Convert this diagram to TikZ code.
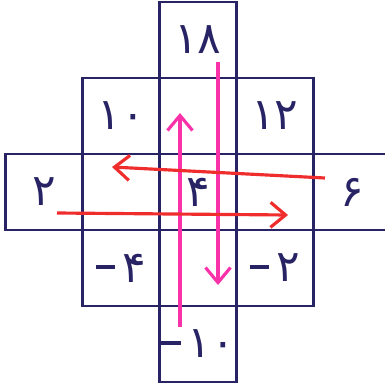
\documentclass[tikz,border=0pt]{standalone}
\usepackage{fontspec}
\usetikzlibrary{arrows.meta, positioning}
\newfontfamily\persianfont[Script=Arabic]{DejaVu Sans}
\newcommand{\fanum}[1]{{\persianfont #1}}
\newcommand{\faneg}[1]{\rule[0.3em]{0.45em}{0.08em}\,{\persianfont #1}}
\definecolor{ink}{RGB}{40,35,100}
\definecolor{penred}{RGB}{240,45,45}
\definecolor{penpink}{RGB}{250,50,170}

\begin{document}
\begin{tikzpicture}[
    x=0.02cm, y=-0.02cm,
    node distance=0pt,
    cell/.style={draw=ink, line width=1.4pt, outer sep=0pt, inner sep=0pt, minimum width=1.54cm, minimum height=1.52cm, text=ink, font=\fontsize{25}{25}\selectfont},
    redarrow/.style={-{Straight Barb[length=3mm, width=5mm]}, penred, line width=1.8pt},
    pinkarrow/.style={-{Straight Barb[length=3mm, width=5mm]}, penpink, line width=1.8pt}
]
\clip (0,0) rectangle (385,389);
\fill[white] (0,0) rectangle (385,389);

% --- middle column ---
\node[cell] (n4) at (198,192) {\fanum{۴}};
\node[cell, above=of n4] (n18a) {};
\node[cell, above=of n18a] (n18) {\fanum{۱۸}};
\node[cell, below=of n4] (nm10a) {};
\node[cell, below=of nm10a] (nm10) {\faneg{۱۰}};

% --- left and right columns ---
\node[cell, left=of n18a] (n10) {\fanum{۱۰}};
\node[cell, right=of n18a] (n12) {\fanum{۱۲}};
\node[cell, left=of n4] (n2a) {};
\node[cell, left=of n2a] (n2) {\fanum{۲}};
\node[cell, right=of n4] (n6a) {};
\node[cell, right=of n6a] (n6) {\fanum{۶}};
\node[cell, left=of nm10a] (nm4) {\faneg{۴}};
\node[cell, right=of nm10a] (nm2) {\faneg{۲}};

% --- arrows ---
\coordinate (upS) at (180,327);
\coordinate (upE) at (180,113);
\coordinate (downS) at (218,62);
\coordinate (downE) at (218,285);
\coordinate (leftS) at (325,178);
\coordinate (leftE) at (112,167);
\coordinate (rightS) at (57,213);
\coordinate (rightE) at (288,215);
\draw[pinkarrow] (upS) -- (upE);
\draw[pinkarrow] (downS) -- (downE);
\draw[redarrow] (leftS) -- (leftE);
\draw[redarrow] (rightS) -- (rightE);
\end{tikzpicture}
\end{document}
